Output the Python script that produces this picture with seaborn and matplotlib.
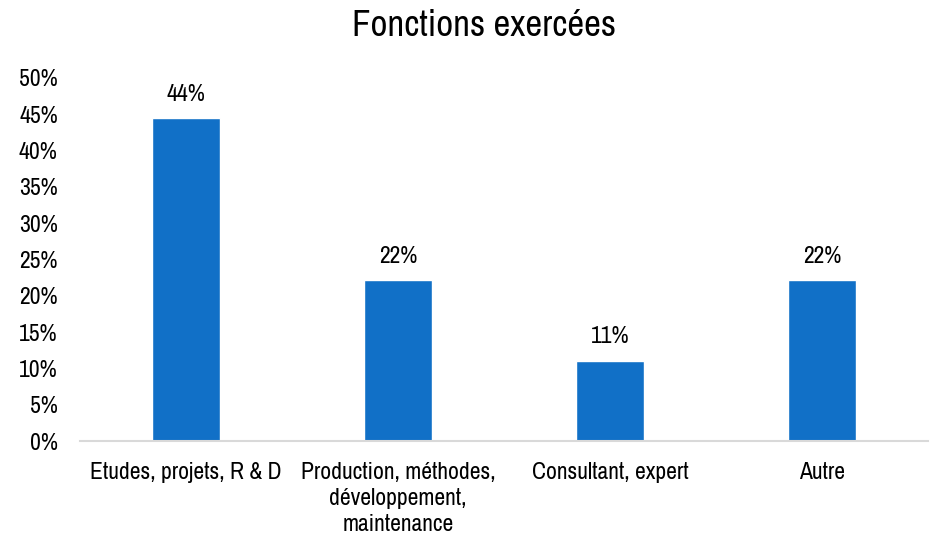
import matplotlib
matplotlib.use("Agg")
import matplotlib.pyplot as plt
import seaborn as sns
import pandas as pd
from matplotlib import font_manager as fm

categories = ["Etudes, projets, R & D",
              "Production, méthodes,\ndéveloppement,\nmaintenance",
              "Consultant, expert",
              "Autre"]
values = [44.4, 22.2, 11.1, 22.2]
labels = ["44%", "22%", "11%", "22%"]
yticks = [0, 5, 10, 15, 20, 25, 30, 35, 40, 45, 50]

sns.set_theme(style="white")
names = sorted({f.name for f in fm.fontManager.ttflist})
narrow = [n for n in names if "Narrow" in n or "Condensed" in n]
if narrow:
    fam = narrow[0]
    fs = 17
else:
    fam = "Liberation Sans"
    fs = 15
plt.rcParams['font.family'] = [fam, 'DejaVu Sans']

df = pd.DataFrame({"cat": categories, "val": values})
fig = plt.figure(figsize=(9.3, 5.4), dpi=100)
ax = fig.add_axes([0.086, 0.183, 0.912, 0.673])
sns.barplot(data=df, x="cat", y="val", color="#1170C7", width=0.32, ax=ax, saturation=1)
ax.set_ylim(0, 50)
ax.set_yticks(yticks)
ax.set_yticklabels([f"{t}%" for t in yticks], fontsize=fs, color="#000000")
ax.tick_params(axis="x", labelsize=fs, colors="#000000", length=0, pad=15)
ax.tick_params(axis="y", length=0, pad=16)
for lab in ax.get_xticklabels():
    lab.set_linespacing(1.3)
ax.set_xlabel("")
ax.set_ylabel("")
for s in ["top", "right", "left"]:
    ax.spines[s].set_visible(False)
ax.spines["bottom"].set_color("#d9d9d9")
ax.spines["bottom"].set_linewidth(1.5)
for i, (v, l) in enumerate(zip(values, labels)):
    ax.text(i, v + 1.8, l, ha="center", va="bottom", fontsize=fs, color="#000000")
fig.text(0.52, 0.952, "Fonctions exercées", ha="center", va="center", fontsize=26.5, color="#000000")
fig.savefig("out.png", dpi=100)
